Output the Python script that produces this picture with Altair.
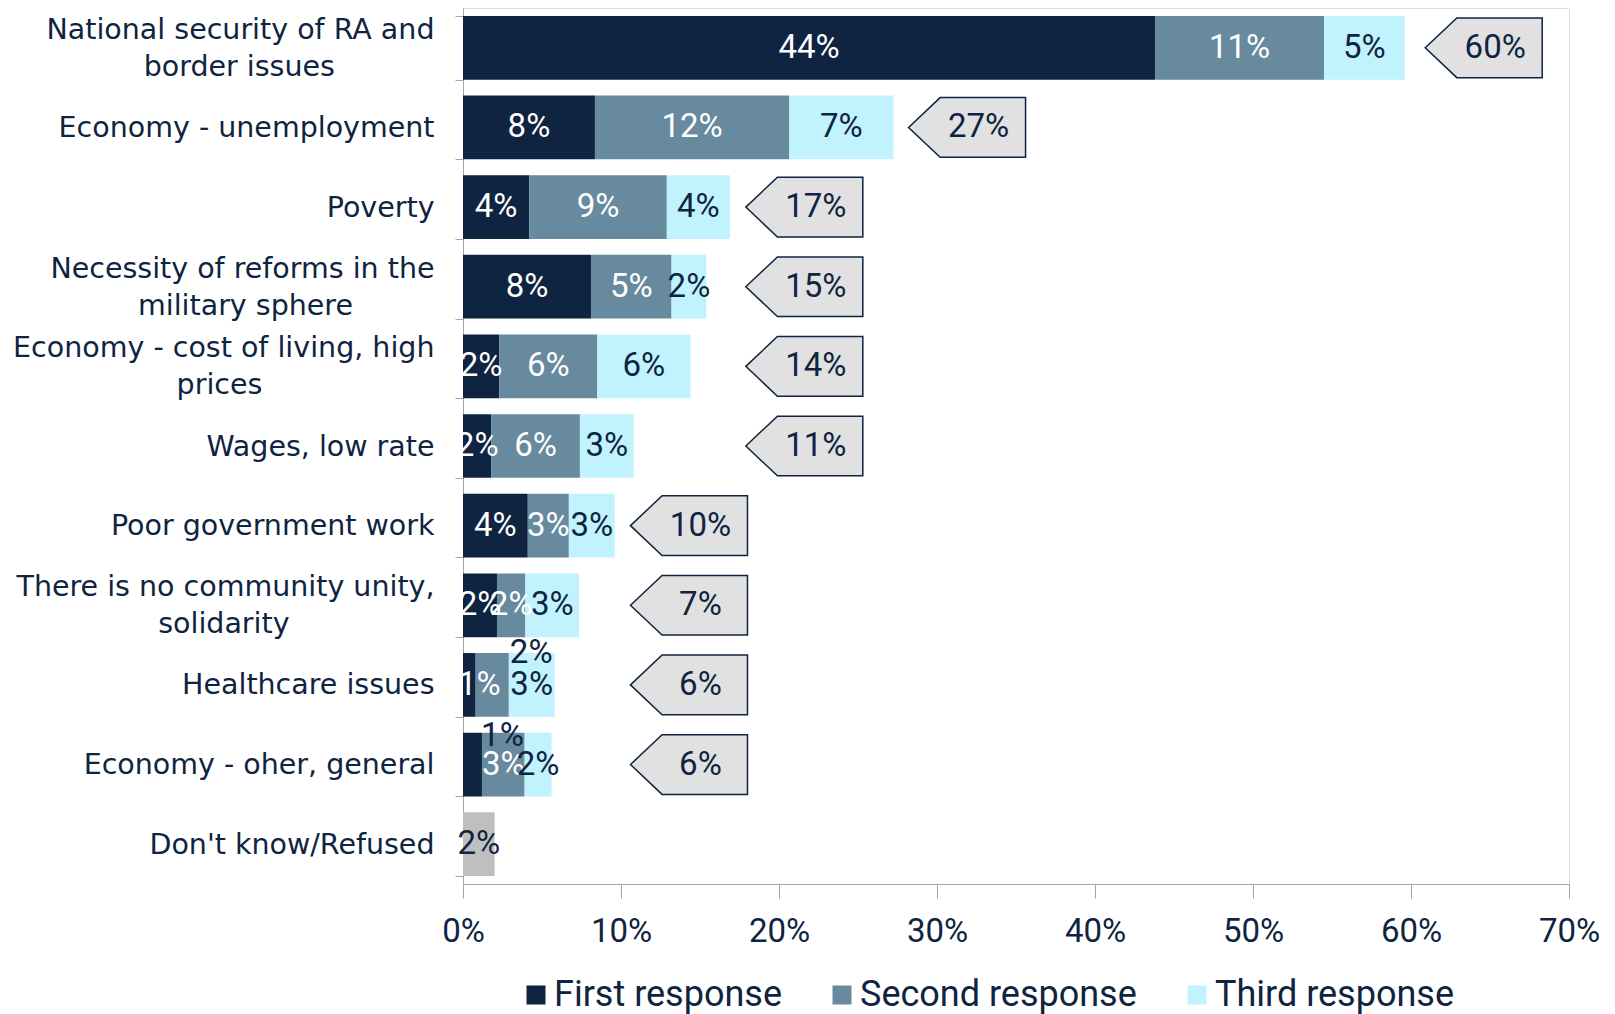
import altair as alt
import pandas as pd

categories = [
    "National security of RA and\nborder issues",
    "Economy - unemployment",
    "Poverty",
    "Necessity of reforms in the\nmilitary sphere",
    "Economy - cost of living, high\nprices",
    "Wages, low rate",
    "Poor government work",
    "There is no community unity,\nsolidarity",
    "Healthcare issues",
    "Economy - oher, general",
    "Don't know/Refused",
]
series = ["First response", "Second response", "Third response", "Don't know/Refused"]
first = [43.8, 8.35, 4.2, 8.1, 2.3, 1.8, 4.1, 2.15, 0.8, 1.2]
second = [10.7, 12.3, 8.7, 5.1, 6.2, 5.6, 2.6, 1.8, 2.1, 2.7]
third = [5.1, 6.6, 4.0, 2.2, 5.9, 3.4, 2.9, 3.4, 2.9, 1.7]
dont_know = [2.0]
callout_at = [60.9, 28.2, 17.9, 17.9, 17.9, 17.9, 10.6, 10.6, 10.6, 10.6]
x_ticks = [0, 10, 20, 30, 40, 50, 60, 70]

colors = ["#0e2440", "#688a9f", "#c0f3fd", "#bfbfbf"]
DARK = "#0e2440"
NBSP = "\u00a0"
ZWSP = "\u200b"
CAT_FONT = "DejaVu Sans"
NUM_FONT = "Roboto"
CAT_FS = 28.5
NUM_FS = 33

# centre the second line of wrapped labels under the first (Excel look)
pad_px = {0: 101, 3: 85, 4: 168, 7: 144}
display = []
for i, c in enumerate(categories):
    if "\n" in c:
        a, b = c.split("\n")
        n = round(pad_px.get(i, 0) / (0.318 * CAT_FS))
        c = a + "\n" + b + NBSP * n + ZWSP
    display.append(c)

rows = []
for i, cat in enumerate(display[:-1]):
    start = 0.0
    for s, v in zip(series[:3], [first[i], second[i], third[i]]):
        rows.append(dict(cat=cat, series=s, start=start, end=start + v, value=v,
                         mid=start + v / 2, label=f"{round(v):.0f}%"))
        start += v
rows.append(dict(cat=display[-1], series=series[3], start=0.0, end=dont_know[0],
                 value=dont_know[0], mid=dont_know[0] / 2, label=f"{round(dont_know[0]):.0f}%"))
df = pd.DataFrame(rows)

tot = pd.DataFrame(dict(
    cat=display[:-1],
    pos=callout_at,
    total=[f"{round(a + b + c):.0f}%" for a, b, c in zip(first, second, third)],
))

# labels that Excel pushed off their segment
moved = {
    (display[8], "Second response"): dict(dx=39, dy=-32, color=DARK),
    (display[8], "First response"): dict(dx=10, dy=0, color="white"),
    (display[9], "First response"): dict(dx=30, dy=-29, color=DARK),
}
df["moved"] = [(c, s) in moved for c, s in zip(df["cat"], df["series"])]

# half-height lines so that one- and two-line labels both centre on the band
label_expr = (
    "indexof(datum.label, '\\n') >= 0 ? "
    f"[split(datum.label, '\\n')[0], '{ZWSP}', split(datum.label, '\\n')[1]] : "
    f"['{ZWSP}', datum.label]"
)

y_enc = alt.Y("cat:N", sort=display, title=None,
              scale=alt.Scale(paddingInner=0.2, paddingOuter=0.1),
              axis=alt.Axis(labelExpr=label_expr, labelFont=CAT_FONT,
                            labelFontSize=CAT_FS, labelColor=DARK, labelLineHeight=18.5,
                            labelBaseline="middle", labelOffset=-18.5,
                            labelPadding=21, tickSize=8, tickBand="extent",
                            domainColor="#a6a6a6", tickColor="#a6a6a6", labelLimit=600,
                            minExtent=455, maxExtent=455))

x_scale = alt.Scale(domain=[0, 70], nice=False)

bars = alt.Chart(df).mark_bar().encode(
    x=alt.X("start:Q", scale=x_scale, title=None,
            axis=alt.Axis(values=x_ticks, labelExpr="datum.value + '%'", grid=False,
                          labelFont=NUM_FONT, labelFontSize=NUM_FS, labelColor=DARK,
                          tickSize=14, labelPadding=17, domainColor="#a6a6a6",
                          tickColor="#a6a6a6", labelFlush=False, labelOverlap=False)),
    x2="end:Q",
    y=y_enc,
    color=alt.Color("series:N", scale=alt.Scale(domain=series, range=colors),
                    legend=alt.Legend(values=series[:3], title=None, orient="none",
                                      direction="horizontal", legendX=55, legendY=969,
                                      symbolType="square", symbolSize=361,
                                      symbolStrokeWidth=0, labelFont=NUM_FONT,
                                      labelFontSize=36, labelColor=DARK, labelLimit=500,
                                      columnPadding=42, labelOffset=0, padding=0)),
)

base = alt.Chart(df)
white_lab = base.transform_filter(
    "!datum.moved && (datum.series == 'First response' || datum.series == 'Second response')"
).mark_text(font=NUM_FONT, fontSize=NUM_FS, color="white").encode(
    x="mid:Q", y=alt.Y("cat:N", sort=display), text="label:N")
dark_lab = base.transform_filter(
    "!datum.moved && (datum.series == 'Third response' || datum.series == \"Don't know/Refused\")"
).mark_text(font=NUM_FONT, fontSize=NUM_FS, color=DARK).encode(
    x="mid:Q", y=alt.Y("cat:N", sort=display), text="label:N")

moved_layers = []
for (c, s), st in moved.items():
    moved_layers.append(
        alt.Chart(df[(df["cat"] == c) & (df["series"] == s)]).mark_text(
            font=NUM_FONT, fontSize=NUM_FS, color=st["color"], dx=st["dx"], dy=st["dy"]
        ).encode(x="mid:Q", y=alt.Y("cat:N", sort=display), text="label:N"))

W = 117
callout_path = "M-1,0 L-0.46,-0.51 L1,-0.51 L1,0.51 L-0.46,0.51 Z"
shapes = alt.Chart(tot).mark_point(
    shape=callout_path, size=W * W, filled=True, fill="#e1e1e1", stroke=DARK,
    strokeWidth=1.5, opacity=1, xOffset=W / 2
).encode(x="pos:Q", y=alt.Y("cat:N", sort=display))
tot_text = alt.Chart(tot).mark_text(
    font=NUM_FONT, fontSize=NUM_FS, color=DARK, dx=70
).encode(x="pos:Q", y=alt.Y("cat:N", sort=display), text="total:N")

chart = alt.layer(bars, white_lab, dark_lab, *moved_layers, shapes, tot_text).properties(
    width=1106, height=876,
    autosize=alt.AutoSizeParams(type="none"),
    padding={"left": 455, "top": 0, "right": 38, "bottom": 130},
).configure_view(stroke=None).configure(background="white")

chart.save("out.html", embed_options={"renderer": "svg", "actions": False})
